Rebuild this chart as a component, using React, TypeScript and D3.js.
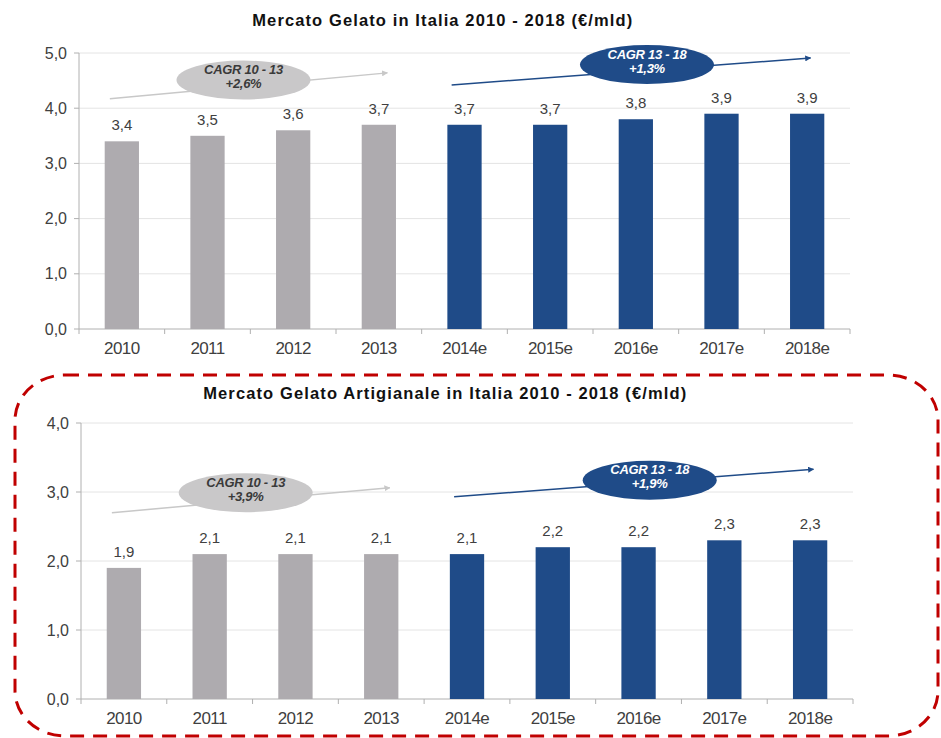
import React from 'react';
import * as d3 from 'd3';

const categories = ['2010', '2011', '2012', '2013', '2014e', '2015e', '2016e', '2017e', '2018e'];
const totalValues = [3.4, 3.5, 3.6, 3.7, 3.7, 3.7, 3.8, 3.9, 3.9];
const artisanValues = [1.9, 2.1, 2.1, 2.1, 2.1, 2.2, 2.2, 2.3, 2.3];
const firstForecast = 4;
const totalTicks = [0, 1, 2, 3, 4, 5];
const artisanTicks = [0, 1, 2, 3, 4];
// CAGR labels: [past, forecast]
const totalCagr = ['+2,6%', '+1,3%'];
const artisanCagr = ['+3,9%', '+1,9%'];
// annotation anchors (category index, value)
const totalArrows = [[-0.14, 4.17, 3.1, 4.64], [3.85, 4.42, 8.04, 4.91]];
const totalBubbles = [[1.42, 4.51], [6.13, 4.79]];
const artisanArrows = [[-0.14, 2.7, 3.1, 3.06], [3.85, 2.93, 8.04, 3.33]];
const artisanBubbles = [[1.42, 2.99], [6.13, 3.17]];

const GREY = '#aeabaf';
const BLUE = '#1f4b88';
const TEXT = '#404040';
const FONT = '"Liberation Sans", Arial, sans-serif';

const fmt = (v: number) => v.toFixed(1).replace('.', ',');

function Panel(props: any) {
  const { id, title, titleY, titleW, values, ticks, left, right, bottom, top, cagr, arrows, bubbles } = props;
  const x = d3.scaleBand().domain(categories).range([left, right]).paddingInner(0.6).paddingOuter(0.3);
  const xi = d3.scaleLinear().domain([-0.5, categories.length - 0.5]).range([left, right]);
  const y = d3.scaleLinear().domain([0, d3.max(ticks) as number]).range([bottom, top]);
  const step = (right - left) / categories.length;
  const bubbleText = [['CAGR 10 - 13', cagr[0]], ['CAGR 13 - 18', cagr[1]]];
  const arrowColors = ['#c8c8c8', BLUE];
  return (
    <g>
      <defs>
        {arrowColors.map((c, i) => (
          <marker key={i} id={`${id}-arr${i}`} viewBox="0 0 10 10" refX="9" refY="5" markerWidth="4" markerHeight="4" orient="auto">
            <path d="M0,0 L10,5 L0,10 z" fill={c} />
          </marker>
        ))}
      </defs>
      {/* title sits a bit left of the plot centre, like the original */}
      <text x={xi(3.74)} y={titleY} textAnchor="middle" fontFamily={FONT} fontWeight="bold" fontSize={16.5}
        fill="#111" textLength={titleW} lengthAdjust="spacing">
        {title}
      </text>
      {ticks.map((t: number) => (
        <g key={t}>
          {t > 0 && <line x1={left} x2={right} y1={y(t)} y2={y(t)} stroke="#e4e4e4" strokeWidth={1} />}
          <line x1={left - 5} x2={left} y1={y(t)} y2={y(t)} stroke="#b0b0b0" />
          <text x={left - 12} y={y(t) + 5.5} textAnchor="end" fontFamily={FONT} fontSize={16} fill={TEXT}>{fmt(t)}</text>
        </g>
      ))}
      <line x1={left} x2={left} y1={top} y2={bottom} stroke="#b0b0b0" />
      <line x1={left} x2={right} y1={bottom} y2={bottom} stroke="#b0b0b0" />
      {d3.range(categories.length + 1).map((i) => (
        <line key={i} x1={left + i * step} x2={left + i * step} y1={bottom} y2={bottom + 5} stroke="#b0b0b0" />
      ))}
      {values.map((v: number, i: number) => (
        <g key={categories[i]}>
          <rect x={x(categories[i])} y={y(v)} width={x.bandwidth()} height={bottom - y(v)} fill={i >= firstForecast ? BLUE : GREY} />
          <text x={(x(categories[i]) as number) + x.bandwidth() / 2} y={y(v) - 11} textAnchor="middle" fontFamily={FONT} fontSize={15} fill={TEXT}>
            {fmt(v)}
          </text>
          <text x={(x(categories[i]) as number) + x.bandwidth() / 2} y={bottom + 25} textAnchor="middle" fontFamily={FONT} fontSize={17}
            letterSpacing={-0.6} fill={TEXT}>
            {categories[i]}
          </text>
        </g>
      ))}
      {arrows.map((a: number[], i: number) => (
        <line key={i} x1={xi(a[0])} y1={y(a[1])} x2={xi(a[2])} y2={y(a[3])} stroke={arrowColors[i]} strokeWidth={1.5} markerEnd={`url(#${id}-arr${i})`} />
      ))}
      {bubbles.map((b: number[], i: number) => (
        <g key={i}>
          <ellipse cx={xi(b[0])} cy={y(b[1])} rx={67} ry={19.5} fill={i === 0 ? '#c9c8c9' : BLUE} />
          {bubbleText[i].map((s, j) => (
            <text key={j} x={xi(b[0])} y={y(b[1]) - 6 + j * 14} textAnchor="middle" fontFamily={FONT} fontWeight="bold" fontStyle="italic" fontSize={13}
              letterSpacing={-0.3} fill={i === 0 ? '#3a3a3a' : '#fff'}>
              {s}
            </text>
          ))}
        </g>
      ))}
    </g>
  );
}

export default function App() {
  return (
    <svg width={941} height={738} style={{ position: 'absolute', left: 0, top: 0, background: '#fff' }}>
      <rect x={0} y={0} width={941} height={738} fill="#fff" />
      <Panel id="tot" title="Mercato Gelato in Italia 2010 - 2018 (€/mld)" titleY={26} titleW={380} values={totalValues} ticks={totalTicks}
        left={79} right={850} bottom={329} top={53} cagr={totalCagr} arrows={totalArrows} bubbles={totalBubbles} />
      <rect x={15} y={375} width={923} height={361} rx={50} ry={45} fill="none" stroke="#c00000" strokeWidth={3} strokeDasharray="14 9" />
      <Panel id="art" title="Mercato Gelato Artigianale in Italia 2010 - 2018 (€/mld)" titleY={399} titleW={483} values={artisanValues} ticks={artisanTicks}
        left={81} right={853} bottom={699} top={423} cagr={artisanCagr} arrows={artisanArrows} bubbles={artisanBubbles} />
    </svg>
  );
}
